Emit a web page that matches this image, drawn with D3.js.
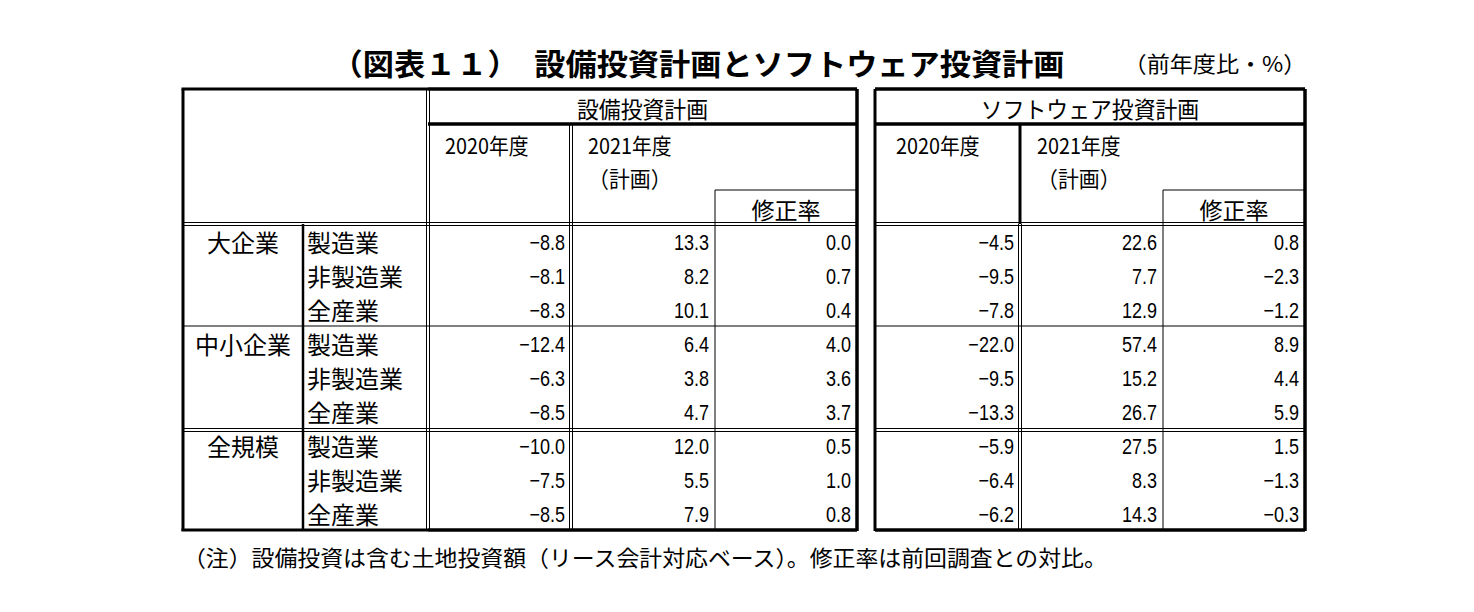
<!DOCTYPE html><html><head><meta charset="utf-8">
<script src="https://cdn.jsdelivr.net/npm/d3@7"></script>
<style>body{margin:0;background:#fff}</style></head><body>
<svg id="c" width="1474" height="612"></svg>
<script>
const title = "（図表１１）　設備投資計画とソフトウェア投資計画";
const unit = "（前年度比・%）";
const note = "（注）設備投資は含む土地投資額（リース会計対応ベース）。修正率は前回調査との対比。";
const groups = ["大企業","中小企業","全規模"];
const industries = ["製造業","非製造業","全産業"];
const sections = ["設備投資計画","ソフトウェア投資計画"];
const colHeads = ["2020年度","2021年度","（計画）","修正率"];
const capex2020 = [-8.8,-8.1,-8.3,-12.4,-6.3,-8.5,-10.0,-7.5,-8.5];
const capex2021 = [13.3,8.2,10.1,6.4,3.8,4.7,12.0,5.5,7.9];
const capexRev  = [0.0,0.7,0.4,4.0,3.6,3.7,0.5,1.0,0.8];
const soft2020 = [-4.5,-9.5,-7.8,-22.0,-9.5,-13.3,-5.9,-6.4,-6.2];
const soft2021 = [22.6,7.7,12.9,57.4,15.2,26.7,27.5,8.3,14.3];
const softRev  = [0.8,-2.3,-1.2,8.9,4.4,5.9,1.5,-1.3,-0.3];

const svg = d3.select("#c");
const JP = "'Noto Sans CJK JP', sans-serif";
const NUM = "'Liberation Sans', Arial, sans-serif";
const y = d3.scaleBand().domain(d3.range(9)).range([224,530]);
const fmt = v => (v<0?"−":"")+Math.abs(v).toFixed(1);

function line(x1,y1,x2,y2,w){svg.append("line").attr("x1",x1).attr("y1",y1).attr("x2",x2).attr("y2",y2).attr("stroke","#000").attr("stroke-width",w);}
function dbl(x1,y1,x2,y2){ if(x1===x2){line(x1-1.5,y1,x2-1.5,y2,1);line(x1+1.5,y1,x2+1.5,y2,1);} else {line(x1,y1-1.5,x2,y2-1.5,1);line(x1,y1+1.5,x2,y2+1.5,1);} }
function txt(s,x,yy,o){const t=svg.append("text").attr("transform",`translate(${x},${yy}) scale(${o.sx||1},1)`).text(s).attr("font-family",o.f||JP).attr("font-size",o.s||20).attr("text-anchor",o.a||"start").attr("dominant-baseline","central").attr("fill","#000");if(o.w)t.attr("font-weight",o.w);return t;}

txt(title,698,62,{s:30,w:"bold",a:"middle",sx:1.04});
txt(unit,1215,62,{s:22,a:"middle",sx:1.05});
txt(note,183,556,{s:22,sx:1.04});

line(183,89,183,531,3);
line(181.5,89,428,89,3); line(181.5,530,428,530,3);
line(303,224,303,530,2.5);
const tables=[{x0:428,c1:571,c2:715,x1:857,data:[capex2020,capex2021,capexRev],name:sections[0]},
              {x0:875,c1:1020,c2:1163,x1:1305,data:[soft2020,soft2021,softRev],name:sections[1]}];
tables.forEach((t,ti)=>{
  line(t.x0,89,t.x1,89,3.5);
  line(t.x0,530,t.x1,530,3.5);
  if(ti===1) line(t.x0,89,t.x0,531,3); else dbl(t.x0,89,t.x0,530);
  line(t.x1,89,t.x1,531,3.5);
  line(t.x0,124,t.x1,124,3.5);
  if(ti===1){ line(t.c1,124,t.c1,224,3); dbl(t.c1,224,t.c1,530);} else dbl(t.c1,124,t.c1,530);
  line(t.c2,190,t.c2,530,1);
  line(t.c2,190,t.x1,190,1);
  txt(t.name,(t.x0+t.x1)/2,108,{s:23,a:"middle",sx:0.95});
  txt(colHeads[0],t.x0+(ti?21:17),145,{s:22,sx:0.9});
  txt(colHeads[1],t.c1+17,145,{s:22,sx:0.9});
  txt(colHeads[2],t.c1+17,177,{s:22,sx:0.95});
  txt(colHeads[3],(t.c2+t.x1)/2,209,{s:23,a:"middle"});
  [t.c1,t.c2,t.x1].forEach((xr,ci)=>{
    t.data[ci].forEach((v,i)=>txt(fmt(v),xr-6,y(i)+y.bandwidth()/2+1,{s:22,f:NUM,a:"end",sx:0.82}));
  });
});
dbl(183,224,857,224); dbl(875,224,1305,224);
line(183,326,857,326,1); line(875,326,1305,326,1);
dbl(183,430,857,430); dbl(875,430,1305,430);
groups.forEach((g,gi)=>txt(g,243,y(gi*3)+y.bandwidth()/2,{s:24,a:"middle"}));
d3.range(9).forEach(i=>txt(industries[i%3],307,y(i)+y.bandwidth()/2,{s:24}));
</script></body></html>
